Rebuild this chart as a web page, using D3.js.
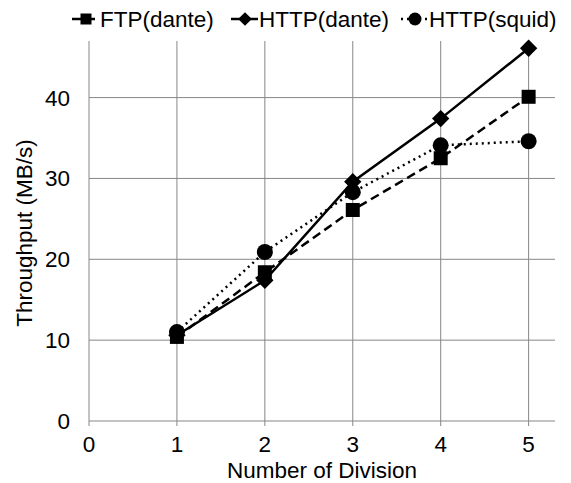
<!DOCTYPE html>
<html>
<head>
<meta charset="utf-8">
<script src="https://cdn.jsdelivr.net/npm/d3@7"></script>
<style>
  body { margin: 0; background: #fff; }
  svg { display: block; font-family: "Liberation Sans", Arial, sans-serif; }
</style>
</head>
<body>
<div id="chart"></div>
<script>
// data
const divisions = [1, 2, 3, 4, 5];
const ftpDante = [10.4, 18.4, 26.1, 32.5, 40.1];
const httpDante = [10.6, 17.4, 29.6, 37.4, 46.1];
const httpSquid = [11.0, 20.9, 28.3, 34.1, 34.6];
const xTicks = [0, 1, 2, 3, 4, 5];
const yTicks = [0, 10, 20, 30, 40];

const series = [
  { name: "FTP(dante)", values: ftpDante, dash: "9,5", marker: "square" },
  { name: "HTTP(dante)", values: httpDante, dash: null, marker: "diamond" },
  { name: "HTTP(squid)", values: httpSquid, dash: "2,4", marker: "circle" },
];

const width = 571,
  height = 483;
const margin = { top: 41, right: 16, bottom: 62, left: 89 };
const gridColor = "#868686";
const fontSize = "22.5px";

const svg = d3
  .select("#chart")
  .append("svg")
  .attr("width", width)
  .attr("height", height);

// scales
const xScale = d3.scaleLinear([0, 5.3], [margin.left, width - margin.right]);
const yScale = d3.scaleLinear([0, 47], [height - margin.bottom, margin.top]);

// horizontal grid
svg
  .append("g")
  .selectAll("line")
  .data(yTicks)
  .join("line")
  .attr("x1", margin.left)
  .attr("x2", width - margin.right)
  .attr("y1", (d) => yScale(d))
  .attr("y2", (d) => yScale(d))
  .attr("stroke", gridColor)
  .attr("stroke-width", 1);

// vertical grid + ticks below the axis
svg
  .append("g")
  .selectAll("line")
  .data(xTicks)
  .join("line")
  .attr("x1", (d) => xScale(d))
  .attr("x2", (d) => xScale(d))
  .attr("y1", margin.top)
  .attr("y2", yScale(0) + 5)
  .attr("stroke", gridColor)
  .attr("stroke-width", 1);

// tick labels
svg
  .append("g")
  .selectAll("text")
  .data(xTicks)
  .join("text")
  .attr("x", (d) => xScale(d))
  .attr("y", 452)
  .attr("text-anchor", "middle")
  .style("font-size", fontSize)
  .text((d) => d);

svg
  .append("g")
  .selectAll("text")
  .data(yTicks)
  .join("text")
  .attr("x", 70)
  .attr("y", (d) => yScale(d) + 8)
  .attr("text-anchor", "end")
  .style("font-size", fontSize)
  .text((d) => d);

// axis titles
svg
  .append("text")
  .attr("x", (margin.left + width - margin.right) / 2)
  .attr("y", 478)
  .attr("text-anchor", "middle")
  .style("font-size", fontSize)
  .text("Number of Division");

svg
  .append("text")
  .attr("transform", `translate(32, ${(margin.top + height - margin.bottom) / 2 + 2}) rotate(-90)`)
  .attr("text-anchor", "middle")
  .style("font-size", fontSize)
  .text("Throughput (MB/s)");

// marker drawing helper
const drawMarker = (g, type, size) => {
  if (type === "square") {
    g.append("rect")
      .attr("x", -size / 2)
      .attr("y", -size / 2)
      .attr("width", size)
      .attr("height", size)
      .attr("fill", "#000");
  } else if (type === "diamond") {
    const s = size * 0.62;
    g.append("path")
      .attr("d", `M0,${-s}L${s},0L0,${s}L${-s},0Z`)
      .attr("fill", "#000");
  } else {
    g.append("circle").attr("r", size / 2 + 1).attr("fill", "#000");
  }
};

// lines
const line = d3
  .line()
  .x((d, i) => xScale(divisions[i]))
  .y((d) => yScale(d));

series.forEach((s) => {
  svg
    .append("path")
    .datum(s.values)
    .attr("fill", "none")
    .attr("stroke", "#000")
    .attr("stroke-width", 2.5)
    .attr("stroke-dasharray", s.dash)
    .attr("d", line);

  s.values.forEach((v, i) => {
    const g = svg
      .append("g")
      .attr("transform", `translate(${xScale(divisions[i])}, ${yScale(v)})`);
    drawMarker(g, s.marker, 14);
  });
});

// legend
const legendX = [86, 245, 415];
series.forEach((s, i) => {
  const cx = legendX[i];
  const lg = svg.append("g").attr("transform", `translate(${cx}, 19)`);
  lg.append("line")
    .attr("x1", -14)
    .attr("x2", 13)
    .attr("stroke", "#000")
    .attr("stroke-width", 2.5)
    .attr("stroke-dasharray", s.dash);
  drawMarker(lg, s.marker, 11);
  lg.append("text")
    .attr("x", 14)
    .attr("y", 8)
    .style("font-size", fontSize)
    .text(s.name);
});
</script>
</body>
</html>
